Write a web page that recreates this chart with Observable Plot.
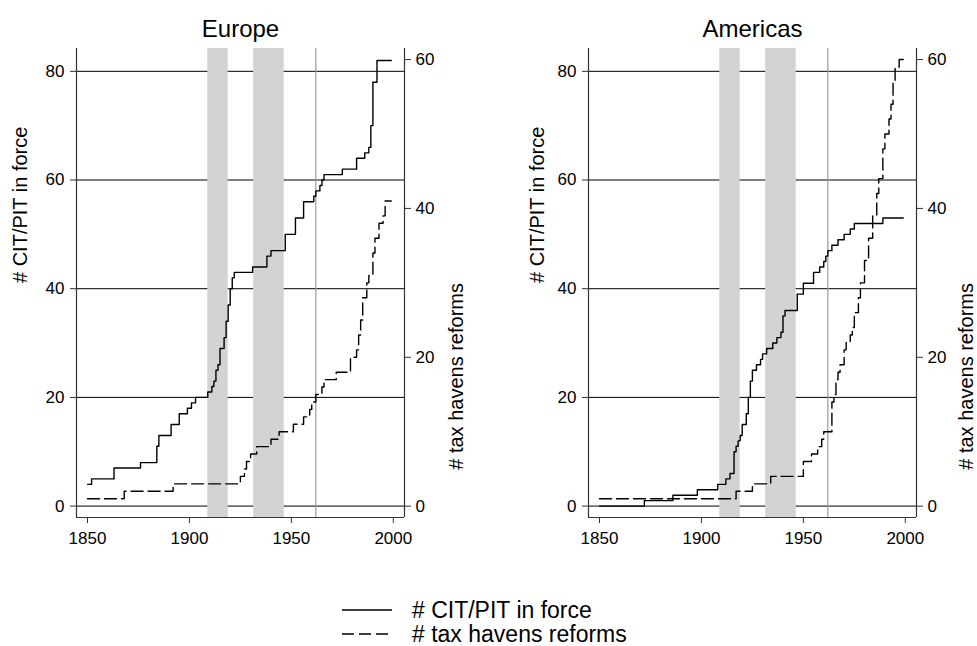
<!DOCTYPE html>
<html><head><meta charset="utf-8">
<script src="https://cdn.jsdelivr.net/npm/d3@7"></script>
<script src="https://cdn.jsdelivr.net/npm/@observablehq/plot@0.6"></script>
<style>
body{margin:0;background:#fff;}
#root{position:relative;width:977px;height:646px;overflow:hidden;font-family:"Liberation Sans",Arial,Helvetica,sans-serif;}
.layer{position:absolute;top:0;width:488px;height:560px;}
.layer svg{max-width:none !important;}
</style></head>
<body><div id="root"></div>
<script>
// ---- data (year, value) ----
const europeCIT = [[1850,4],[1852,5],[1863,7],[1876,8],[1884,11],[1885,13],[1891,15],[1895,17],[1899,18],[1901,19],[1903,20],[1909,21],[1911,22],[1912,23],[1913,25],[1914,26],[1915,29],[1917,31],[1918,34],[1919,37],[1920,40],[1921,42],[1922,43],[1931,44],[1938,46],[1940,47],[1947,50],[1952,53],[1956,56],[1961,57],[1962,58],[1964,59],[1965,60],[1966,61],[1975,62],[1982,64],[1986,65],[1988,66],[1989,70],[1990,78],[1992,82],[1999,82]];
const europeHavens = [[1850,1],[1868,2],[1892,3],[1925,4],[1927,5],[1928,6],[1930,7],[1933,8],[1940,9],[1944,10],[1951,11],[1956,12],[1959,13],[1960,14],[1962,15],[1965,16],[1966,17],[1972,18],[1979,20],[1982,21],[1983,23],[1984,25],[1985,28],[1987,30],[1988,31],[1990,34],[1991,36],[1993,38],[1995,39],[1996,41],[1999,41]];
const americasCIT = [[1850,0],[1872,1],[1886,2],[1898,3],[1908,4],[1912,5],[1914,6],[1916,10],[1917,11],[1918,12],[1919,13],[1920,15],[1922,17],[1923,20],[1924,23],[1925,25],[1927,26],[1929,27],[1930,28],[1932,29],[1935,30],[1937,31],[1939,32],[1940,35],[1941,36],[1947,39],[1950,41],[1955,43],[1958,44],[1960,45],[1961,46],[1962,47],[1964,48],[1967,49],[1970,50],[1973,51],[1975,52],[1989,53],[1999,53]];
const americasHavens = [[1850,1],[1917,2],[1925,3],[1934,4],[1950,6],[1954,7],[1957,8],[1959,9],[1960,10],[1963,10],[1964,14],[1965,15],[1966,17],[1967,18],[1968,19],[1970,21],[1971,22],[1973,23],[1974,24],[1975,26],[1977,28],[1978,30],[1980,33],[1982,36],[1984,39],[1986,42],[1987,44],[1989,48],[1990,50],[1992,52],[1993,54],[1994,57],[1995,59],[1997,60],[1999,60]];
const shadedPeriods = [[1909,1919],[1931.5,1946.5]];
const markerYears = [1962];
const xTicks = [1850,1900,1950,2000];
const leftTicks = [0,20,40,60,80];
const rightTicks = [0,20,40,60];
const panelTitles = ["Europe","Americas"];
const leftLabel = "# CIT/PIT in force";
const rightLabel = "# tax havens reforms";

const FONT = '"Liberation Sans", Arial, Helvetica, sans-serif';
const xDomain = [1844.6, 2005.5];
const leftDomain = [-2.1, 84.2];
const rightDomain = [-1.52, 61.48];
const common = {width:488, height:560, marginTop:48, marginBottom:43, marginLeft:76, marginRight:84,
  style:{fontFamily:FONT, fontSize:"17px", background:"transparent", color:"#000", overflow:"visible"}};

function addPanel(offset, title, cit, havens, dxL, dxR) {
  const root = document.getElementById("root");
  const p1 = Plot.plot({...common, x:{domain:xDomain}, y:{domain:leftDomain},
    marks:[
      Plot.ruleY(leftTicks, {stroke:"#000", strokeWidth:1}),
      Plot.rect(shadedPeriods, {x1:d=>d[0], x2:d=>d[1], fill:"#d3d3d3"}),
      Plot.ruleX(markerYears, {stroke:"#9a9a9a", strokeWidth:1.2}),
      Plot.line(cit, {x:d=>d[0], y:d=>d[1], curve:"step-after", stroke:"#000", strokeWidth:1.4}),
      Plot.ruleX([xDomain[0]], {stroke:"#333", strokeWidth:1.2}),
      Plot.ruleY([leftDomain[0]], {stroke:"#333", strokeWidth:1.2}),
      Plot.axisX({ticks:xTicks, tickSize:6, tickPadding:8, tickFormat:d=>String(d), label:null, stroke:"#333"}),
      Plot.axisY({ticks:leftTicks, tickSize:6, tickPadding:6, label:null, stroke:"#333"}),
      Plot.text([leftLabel], {frameAnchor:"left", rotate:-90, dx:dxL, fontSize:20, text:d=>d}),
      Plot.text([title], {frameAnchor:"top", lineAnchor:"bottom", dy:-11.5, fontSize:24, text:d=>d})
    ]});
  const p2 = Plot.plot({...common, x:{domain:xDomain, axis:null}, y:{domain:rightDomain},
    marks:[
      Plot.line(havens, {x:d=>d[0], y:d=>d[1], curve:"step-after", stroke:"#000", strokeWidth:1.4, strokeDasharray:"12,5"}),
      Plot.ruleX([xDomain[1]], {stroke:"#333", strokeWidth:1.2}),
      Plot.axisY({anchor:"right", ticks:rightTicks, tickSize:6, tickPadding:5, label:null, stroke:"#333"}),
      Plot.text([rightLabel], {frameAnchor:"right", rotate:-90, dx:dxR, fontSize:20, text:d=>d})
    ]});
  for (const p of [p1, p2]) {
    const d = document.createElement("div");
    d.className = "layer";
    d.style.left = offset + "px";
    d.appendChild(p);
    root.appendChild(d);
  }
}
addPanel(0, panelTitles[0], europeCIT, europeHavens, -55.5, 52.5);
addPanel(512, panelTitles[1], americasCIT, americasHavens, -50.5, 50.5);

// legend
const ns = "http://www.w3.org/2000/svg";
const leg = document.createElementNS(ns, "svg");
leg.setAttribute("width", 977); leg.setAttribute("height", 646);
leg.style.position = "absolute"; leg.style.left = "0"; leg.style.top = "0"; leg.style.pointerEvents = "none";
[[leftLabel, null, 610], [rightLabel, "12,5", 634]].forEach(([t, dash, y]) => {
  const l = document.createElementNS(ns, "line");
  l.setAttribute("x1", 342); l.setAttribute("x2", 392); l.setAttribute("y1", y); l.setAttribute("y2", y);
  l.setAttribute("stroke", "#000"); l.setAttribute("stroke-width", 1.4);
  if (dash) l.setAttribute("stroke-dasharray", dash);
  leg.appendChild(l);
  const tx = document.createElementNS(ns, "text");
  tx.setAttribute("x", 412); tx.setAttribute("y", y + 8);
  tx.setAttribute("font-family", FONT); tx.setAttribute("font-size", 23);
  tx.textContent = t;
  leg.appendChild(tx);
});
document.getElementById("root").appendChild(leg);
</script>
</body></html>
